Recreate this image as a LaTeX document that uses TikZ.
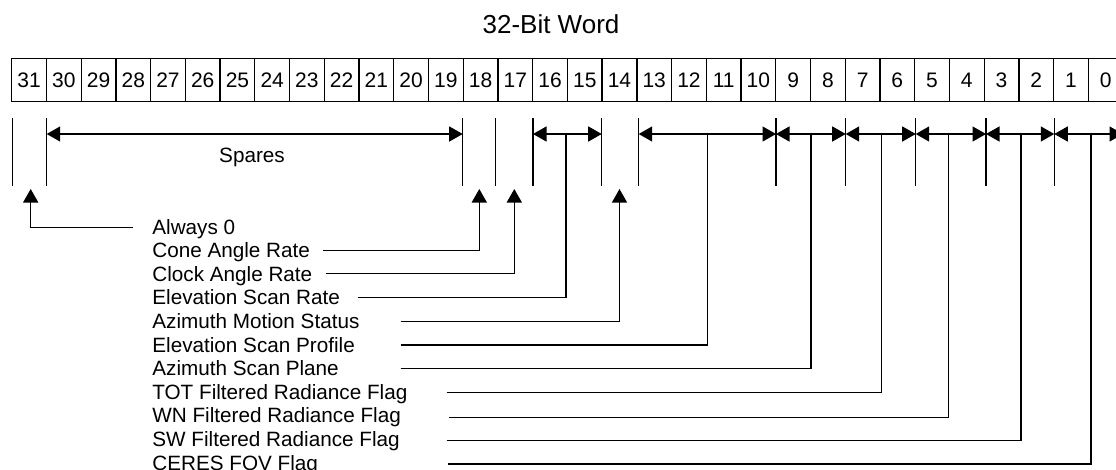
\documentclass[tikz,border=0pt]{standalone}
\usepackage{fontspec}
\setmainfont{Liberation Sans}
\usetikzlibrary{arrows.meta}
\begin{document}
\begin{tikzpicture}[x=1pt,y=-1pt,line width=1.3pt,
  cell/.style={draw,minimum width=34.73pt,minimum height=43.4pt,inner sep=0pt,font=\fontsize{21}{25}\selectfont},
  lab/.style={anchor=base west,inner sep=0pt,font=\fontsize{20.7}{24}\selectfont},
  tri/.tip={Triangle[length=13.5pt,width=15pt]},
  uparrow/.style={-tri},
  dblarrow/.style={tri-tri},
  tickline/.style={line width=1.3pt}]
\clip (0,0) rectangle (1116,469);
% title
\node[font=\fontsize{26}{30}\selectfont] (title) at (551,24) {32-Bit Word};
% bit cells
\foreach \i in {0,...,31}{
  \pgfmathtruncatemacro\b{31-\i}
  \node[cell] (b\b) at ({29.07+\i*34.73},80) {\b};
}
% ticks
\foreach \x [count=\k] in {12.7,46.7,462.7,495.7,533,601.7,638.7,776,845.7,915.7,986,1054.3,1123}{
  \coordinate (tt\k) at (\x,118);
  \coordinate (tb\k) at (\x,186);
  \draw[tickline] (tt\k) -- (tb\k);
}
% arrow row coordinates
\foreach \x [count=\k] in {46.7,462.7,533,601.7,638.7,776,845.7,915.7,986,1054.3,1123}{
  \coordinate (r\k) at (\x,134);
}
\draw[dblarrow] (r1) -- (r2);
\draw[dblarrow] (r3) -- (r4);
\draw[dblarrow] (r5) -- (r6);
\draw[dblarrow] (r6) -- (r7);
\draw[dblarrow] (r7) -- (r8);
\draw[dblarrow] (r8) -- (r9);
\draw[dblarrow] (r9) -- (r10);
\draw[dblarrow] (r10) -- (r11);
\node[font=\fontsize{20.7}{24}\selectfont] (spares) at (252,157) {Spares};
% labels
\node[lab] (l0) at (151.7,234.1) {Always 0};
\node[lab] (l1) at (151.7,257.7) {Cone Angle Rate};
\node[lab] (l2) at (151.7,281.3) {Clock Angle Rate};
\node[lab] (l3) at (151.7,304.9) {Elevation Scan Rate};
\node[lab] (l4) at (151.7,328.5) {Azimuth Motion Status};
\node[lab] (l5) at (151.7,352.1) {Elevation Scan Profile};
\node[lab] (l6) at (151.7,375.7) {Azimuth Scan Plane};
\node[lab] (l7) at (151.7,399.3) {TOT Filtered Radiance Flag};
\node[lab] (l8) at (151.7,422.9) {WN Filtered Radiance Flag};
\node[lab] (l9) at (151.7,446.5) {SW Filtered Radiance Flag};
\node[lab] (l10) at (151.7,470.1) {CERES FOV Flag};
% leader starts
\coordinate (s0) at (133.3,227.3);
\coordinate (s1) at (323.3,250.7);
\coordinate (s2) at (325.7,273.5);
\coordinate (s3) at (357.7,297.5);
\coordinate (s4) at (400.7,321.3);
\coordinate (s5) at (400.7,345);
\coordinate (s6) at (400.7,368.7);
\coordinate (s7) at (446.7,392.5);
\coordinate (s8) at (449.3,417.2);
\coordinate (s9) at (446.7,440.7);
\coordinate (s10) at (448.3,464);
% targets
\coordinate (u31) at (30.7,189);
\coordinate (u18) at (479.3,189);
\coordinate (u17) at (514.3,189);
\coordinate (u14) at (619.5,189);
\coordinate (m1615) at (566,134);
\coordinate (m1310) at (707.3,134);
\coordinate (m98) at (811,134);
\coordinate (m76) at (881.7,134);
\coordinate (m54) at (948.3,134);
\coordinate (m32) at (1021,134);
\coordinate (m10) at (1091,134);
\draw[uparrow] (s0) -| (u31);
\draw[uparrow] (s1) -| (u18);
\draw[uparrow] (s2) -| (u17);
\draw (s3) -| (m1615);
\draw[uparrow] (s4) -| (u14);
\draw (s5) -| (m1310);
\draw (s6) -| (m98);
\draw (s7) -| (m76);
\draw (s8) -| (m54);
\draw (s9) -| (m32);
\draw (s10) -| (m10);
\end{tikzpicture}
\end{document}
